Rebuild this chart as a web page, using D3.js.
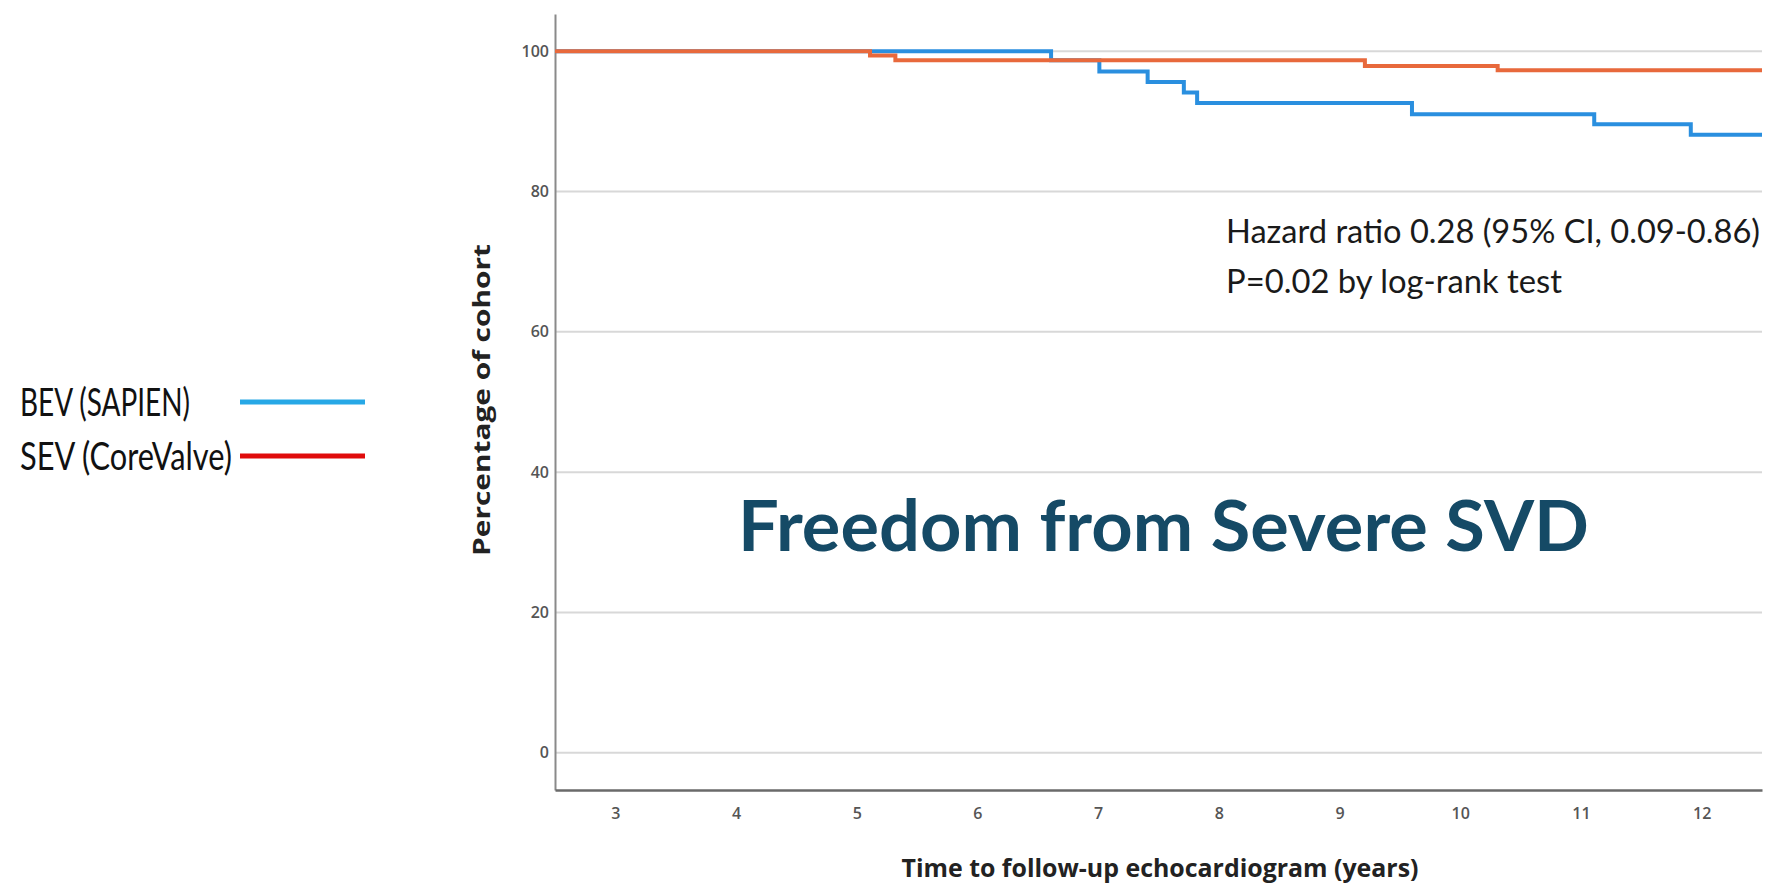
<!DOCTYPE html>
<html>
<head>
<meta charset="utf-8">
<script src="https://cdn.jsdelivr.net/npm/d3@7"></script>
<style>
  body { margin: 0; background: #fff; }
  svg { display: block; }
</style>
</head>
<body>
<div id="chart"></div>
<script>
// Kaplan-Meier steps (years, % of cohort)
const bevTimes = [2.5, 6.61, 7.01, 7.41, 7.71, 7.82, 9.60, 11.11, 11.91, 12.5];
const bevSurv  = [100, 98.7, 97.1, 95.6, 94.1, 92.6, 91.0, 89.6, 88.1, 88.1];
const sevTimes = [2.5, 5.11, 5.32, 9.21, 10.31, 12.5];
const sevSurv  = [100, 99.4, 98.7, 97.9, 97.3, 97.3];

const xTicks = [3, 4, 5, 6, 7, 8, 9, 10, 11, 12];
const yTicks = [0, 20, 40, 60, 80, 100];

const seriesNames = ['BEV (SAPIEN)', 'SEV (CoreValve)'];
const statLines = ['Hazard ratio 0.28 (95% CI, 0.09-0.86)', 'P=0.02 by log-rank test'];
const chartTitle = 'Freedom from Severe SVD';
const xTitle = 'Time to follow-up echocardiogram (years)';
const yTitle = 'Percentage of cohort';

const width = 1780, height = 894;
const plot = { left: 555, right: 1762, top: 14, bottom: 790 };

const svg = d3.select('#chart').append('svg')
  .attr('width', width)
  .attr('height', height);

const x = d3.scaleLinear()
  .domain([2.5, 12.5])
  .range([plot.left, plot.right]);

const y = d3.scaleLinear()
  .domain([-5.3, 105.3])
  .range([plot.bottom, plot.top]);

// gridlines
svg.append('g')
  .selectAll('line')
  .data(yTicks)
  .join('line')
  .attr('x1', plot.left)
  .attr('x2', plot.right)
  .attr('y1', d => y(d))
  .attr('y2', d => y(d))
  .attr('stroke', '#d8d8d8')
  .attr('stroke-width', 2);

// axes
const yAxis = d3.axisLeft(y).tickValues(yTicks).tickSize(0).tickPadding(6);
const xAxis = d3.axisBottom(x).tickValues(xTicks).tickSize(0).tickPadding(18);

const yAxisGroup = svg.append('g')
  .attr('transform', `translate(${plot.left},0)`)
  .call(yAxis);
yAxisGroup.select('.domain').attr('stroke', '#8a8a8a').attr('stroke-width', 2);

const xAxisGroup = svg.append('g')
  .attr('transform', `translate(0,${plot.bottom})`)
  .call(xAxis);
xAxisGroup.select('.domain').attr('stroke', '#6a6a6a').attr('stroke-width', 2.5);

svg.selectAll('.tick text')
  .attr('font-family', 'Open Sans, sans-serif')
  .attr('font-size', 16)
  .attr('font-weight', 600)
  .attr('fill', '#555');

// axis titles
svg.append('text')
  .attr('x', 1160)
  .attr('y', 877)
  .attr('text-anchor', 'middle')
  .attr('font-family', 'Open Sans, sans-serif')
  .attr('font-weight', 700)
  .attr('font-size', 25)
  .attr('fill', '#222')
  .attr('textLength', 517)
  .attr('lengthAdjust', 'spacingAndGlyphs')
  .text(xTitle);

svg.append('text')
  .attr('transform', 'translate(490,400) rotate(-90)')
  .attr('text-anchor', 'middle')
  .attr('font-family', 'Open Sans, sans-serif')
  .attr('font-weight', 700)
  .attr('font-size', 24)
  .attr('fill', '#222')
  .attr('textLength', 312)
  .attr('lengthAdjust', 'spacingAndGlyphs')
  .text(yTitle);

// survival curves
const line = d3.line()
  .x(d => x(d[0]))
  .y(d => y(d[1]))
  .curve(d3.curveStepAfter);

const bev = bevTimes.map((t, i) => [t, bevSurv[i]]);
const sev = sevTimes.map((t, i) => [t, sevSurv[i]]);

svg.append('path')
  .datum(bev)
  .attr('d', line)
  .attr('fill', 'none')
  .attr('stroke', '#2a8fdf')
  .attr('stroke-width', 4);

svg.append('path')
  .datum(sev)
  .attr('d', line)
  .attr('fill', 'none')
  .attr('stroke', '#e8693c')
  .attr('stroke-width', 4);

// stats annotation
svg.append('g')
  .selectAll('text')
  .data(statLines)
  .join('text')
  .attr('x', 1226)
  .attr('y', (d, i) => 243 + i * 50)
  .attr('font-family', 'Lato, sans-serif')
  .attr('font-size', 33)
  .attr('fill', '#1a1a1a')
  .attr('textLength', (d, i) => i === 0 ? 534 : 336)
  .attr('lengthAdjust', 'spacingAndGlyphs')
  .text(d => d);

// overlay title
svg.append('text')
  .attr('x', 738)
  .attr('y', 551)
  .attr('font-family', 'Lato, sans-serif')
  .attr('font-weight', 700)
  .attr('font-size', 70)
  .attr('fill', '#154a66')
  .attr('textLength', 851)
  .attr('lengthAdjust', 'spacingAndGlyphs')
  .text(chartTitle);

// legend
const legendColors = ['#27a8e6', '#e00c0c'];
const legend = svg.append('g')
  .selectAll('g')
  .data(seriesNames)
  .join('g')
  .attr('transform', (d, i) => `translate(0,${402 + i * 54})`);

legend.append('text')
  .attr('x', 20)
  .attr('y', 14)
  .attr('font-family', 'Lato, sans-serif')
  .attr('font-size', 38)
  .attr('fill', '#111')
  .attr('textLength', (d, i) => i === 0 ? 170 : 212)
  .attr('lengthAdjust', 'spacingAndGlyphs')
  .text(d => d);

legend.append('line')
  .attr('x1', 240)
  .attr('x2', 365)
  .attr('stroke', (d, i) => legendColors[i])
  .attr('stroke-width', 5);
</script>
</body>
</html>
